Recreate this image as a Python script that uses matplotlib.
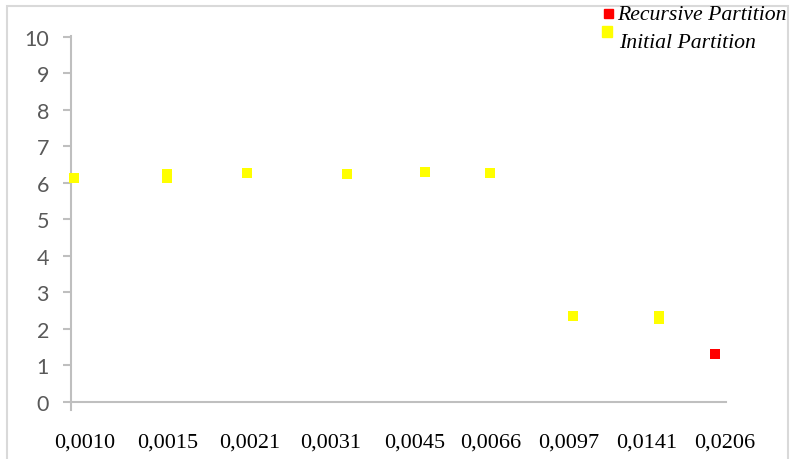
import matplotlib
matplotlib.use("agg")
import matplotlib.pyplot as plt
from matplotlib.patches import Rectangle

# x positions on a 0-100 axis
initial_x = [0.4, 14.7, 14.7, 26.9, 42.2, 54.0, 63.9, 76.6, 89.8, 89.8]
initial_y = [6.13, 6.14, 6.24, 6.27, 6.23, 6.29, 6.27, 2.35, 2.27, 2.35]
recursive_x = [98.3]
recursive_y = [1.31]

tick_pos = [2.1, 14.8, 27.3, 39.7, 52.4, 64.1, 76.0, 87.9, 99.8]
tick_labels = ["0,0010", "0,0015", "0,0021", "0,0031", "0,0045",
               "0,0066", "0,0097", "0,0141", "0,0206"]

fig = plt.figure(figsize=(7.91, 4.6), dpi=100)
ax = fig.add_axes([71 / 791, 49 / 460, 655 / 791, 374 / 460])

# outer chart frame
fig.patches.append(Rectangle((7 / 791, -0.05), 781 / 791, 1.05 - 7 / 460,
                             transform=fig.transFigure, fill=False,
                             edgecolor="#d9d9d9", linewidth=1.5))

ax.plot(initial_x, initial_y, "s", color="#ffff00", markersize=7.5,
        markeredgewidth=0, clip_on=False, zorder=5)
ax.plot(recursive_x, recursive_y, "s", color="#ff0000", markersize=7.5,
        markeredgewidth=0, clip_on=False, zorder=5)

ax.set_xlim(0, 100)
ax.set_ylim(-0.2186, 10.02)
ax.set_yticks(range(0, 11))
ax.set_xticks(tick_pos)

for s in ["top", "right"]:
    ax.spines[s].set_visible(False)
ax.spines["bottom"].set_position(("data", 0))
for s in ["left", "bottom"]:
    ax.spines[s].set_color("#bfbfbf")
    ax.spines[s].set_linewidth(1.5)

ax.tick_params(axis="y", length=5.8, width=1.5, color="#bfbfbf", pad=10,
               labelsize=15.5, labelcolor="#595959")
ax.tick_params(axis="x", length=0, pad=22)

ax.set_xticklabels(tick_labels)
for lab in ax.get_xticklabels():
    lab.set_family("Liberation Serif")
    lab.set_fontsize(16)
    lab.set_color("black")
for lab in ax.get_yticklabels():
    lab.set_family("Lato")

# legend drawn by hand in the top right corner
fig.patches.append(Rectangle((604 / 791, 1 - 19 / 460), 9 / 791, 9 / 460,
                             transform=fig.transFigure, color="#ff0000"))
fig.patches.append(Rectangle((602 / 791, 1 - 38 / 460), 10 / 791, 11 / 460,
                             transform=fig.transFigure, color="#ffff00"))
fig.text(617 / 791, 1 - 15 / 460, "Recursive Partition", family="Liberation Serif",
         style="italic", fontsize=15.7, va="center", ha="left")
fig.text(619 / 791, 1 - 44 / 460, "Initial Partition", family="Liberation Serif",
         style="italic", fontsize=15.7, va="center", ha="left")

fig.savefig("out.png", dpi=100, facecolor="white")
